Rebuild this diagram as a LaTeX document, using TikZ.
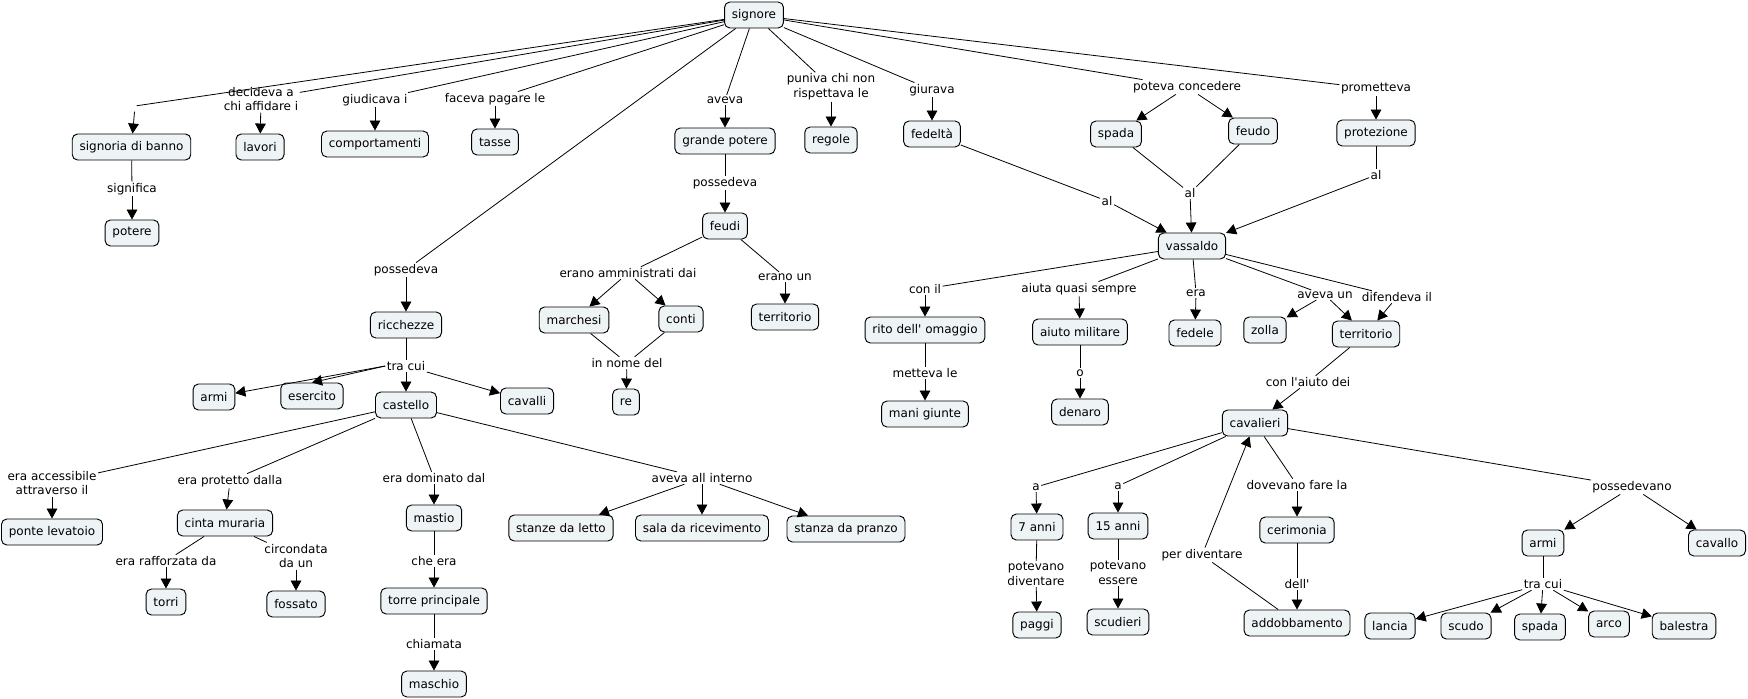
\documentclass[tikz,border=0pt]{standalone}
\usepackage{fontspec}
\setmainfont{DejaVu Sans}[Ligatures=TeXOff]
\usetikzlibrary{arrows.meta}
\definecolor{boxfill}{HTML}{EEF3F5}

\begin{document}
\begin{tikzpicture}[x=0.75pt,y=-0.75pt,
  concept/.style={draw,rounded corners=4pt,fill=boxfill,line width=0.7pt,
    inner xsep=5.5pt,inner ysep=3pt,minimum height=19.5pt,font=\fontsize{9}{11}\selectfont},
  link/.style={inner sep=1pt,align=center,font=\fontsize{9}{11}\selectfont},
  wire/.style={line width=0.6pt},
  tip/.style={wire,-{Triangle[length=7.5pt,width=8pt]}}]

% 1. Canvas (pixel grid of the reference)
\fill[white] (0,0) rectangle (1748,699);
\useasboundingbox (0,0) rectangle (1748,699);

% 2. Concepts
\node[concept] (signore) at (754,15) {signore};
\node[concept] (banno) at (131.5,147) {signoria di banno};
\node[concept] (potere) at (132,233) {potere};
\node[concept] (lavori) at (260,147) {lavori};
\node[concept] (comportamenti) at (375,144) {comportamenti};
\node[concept] (tasse) at (495,142) {tasse};
\node[concept] (grandepotere) at (725,141) {grande potere};
\node[concept] (feudi) at (725,226) {feudi};
\node[concept] (regole) at (831,140) {regole};
\node[concept] (fedelta) at (932,134) {fedeltà};
\node[concept] (spada) at (1116,134) {spada};
\node[concept] (feudo) at (1253,131) {feudo};
\node[concept] (protezione) at (1376,133) {protezione};
\node[concept] (vassaldo) at (1192,246) {vassaldo};
\node[concept] (ricchezze) at (406,325) {ricchezze};
\node[concept] (armi) at (214,397) {armi};
\node[concept] (esercito) at (312,396) {esercito};
\node[concept] (castello) at (406,405) {castello};
\node[concept] (cavalli) at (527,401) {cavalli};
\node[concept] (ponte) at (52,532) {ponte levatoio};
\node[concept] (cinta) at (225,523) {cinta muraria};
\node[concept] (torri) at (166,602) {torri};
\node[concept] (fossato) at (296,604) {fossato};
\node[concept] (mastio) at (434,518) {mastio};
\node[concept] (torre) at (434,601) {torre principale};
\node[concept] (maschio) at (434,684) {maschio};
\node[concept] (stanze) at (561,528) {stanze da letto};
\node[concept] (sala) at (702,528) {sala da ricevimento};
\node[concept] (pranzo) at (846,529) {stanza da pranzo};
\node[concept] (marchesi) at (574,320) {marchesi};
\node[concept] (conti) at (681,319) {conti};
\node[concept] (territorioA) at (785,317) {territorio};
\node[concept] (re) at (626,402) {re};
\node[concept] (rito) at (925,330) {rito dell' omaggio};
\node[concept] (mani) at (925,414) {mani giunte};
\node[concept] (aiuto) at (1080,332) {aiuto militare};
\node[concept] (denaro) at (1080,412) {denaro};
\node[concept] (fedele) at (1195,333) {fedele};
\node[concept] (zolla) at (1265,330) {zolla};
\node[concept] (territorioB) at (1366,334) {territorio};
\node[concept] (cavalieri) at (1255,423) {cavalieri};
\node[concept] (sette) at (1037,527) {7 anni};
\node[concept] (paggi) at (1037,625) {paggi};
\node[concept] (quindici) at (1118,526) {15 anni};
\node[concept] (scudieri) at (1118,622) {scudieri};
\node[concept] (cerimonia) at (1297,530) {cerimonia};
\node[concept] (addobb) at (1297,623) {addobbamento};
\node[concept] (armiB) at (1543,543) {armi};
\node[concept] (cavallo) at (1717,543) {cavallo};
\node[concept] (lancia) at (1390,626) {lancia};
\node[concept] (scudo) at (1466,626) {scudo};
\node[concept] (spadaB) at (1540,627) {spada};
\node[concept] (arco) at (1609,624) {arco};
\node[concept] (balestra) at (1684,626) {balestra};

% 3. Linking phrases
\node[link,minimum height=8pt] (lbanno) at (135,106) {};
\node[link] (ldecideva) at (261,99) {decideva a\\chi affidare i};
\node[link] (lgiudicava) at (375,100) {giudicava i};
\node[link] (lfaceva) at (495,99) {faceva pagare le};
\node[link] (lsignifica) at (132,189) {significa};
\node[link] (lpossRic) at (406,270) {possedeva};
\node[link] (laveva) at (725,100) {aveva};
\node[link] (lpossFeudi) at (725,183) {possedeva};
\node[link] (lpuniva) at (831,87) {puniva chi non\\rispettava le};
\node[link] (lgiurava) at (932,90) {giurava};
\node[link] (lconcedere) at (1187,87) {poteva concedere};
\node[link] (lprometteva) at (1376,89) {prometteva};
\node[link] (lalFed) at (1107,201) {al};
\node[link] (lalSpada) at (1190,193) {al};
\node[link] (lalProt) at (1376,175) {al};
\node[link] (ltracui) at (406,366) {tra cui};
\node[link] (laccessibile) at (52,483) {era accessibile\\attraverso il};
\node[link] (lprotetto) at (230,481) {era protetto dalla};
\node[link] (lrafforzata) at (166,561) {era rafforzata da};
\node[link] (lcircondata) at (296,556) {circondata\\da un};
\node[link] (ldominato) at (434,478) {era dominato dal};
\node[link] (lcheera) at (434,561) {che era};
\node[link] (lchiamata) at (434,644) {chiamata};
\node[link] (linterno) at (702,478) {aveva all interno};
\node[link] (lamministrati) at (628,273) {erano amministrati dai};
\node[link] (leranoun) at (785,277) {erano un};
\node[link] (lnome) at (627,363) {in nome del};
\node[link] (lconil) at (925,289) {con il};
\node[link] (lmetteva) at (925,373) {metteva le};
\node[link] (laiuta) at (1079,289) {aiuta quasi sempre};
\node[link] (lo) at (1080,373) {o};
\node[link] (lera) at (1196,293) {era};
\node[link] (lavevaun) at (1325,295) {aveva un};
\node[link] (ldifendeva) at (1397,297) {difendeva il};
\node[link] (laiutodei) at (1308,382) {con l'aiuto dei};
\node[link] (laA) at (1036,487) {a};
\node[link] (laB) at (1118,486) {a};
\node[link] (lpotdiv) at (1036,574) {potevano\\diventare};
\node[link] (lpotess) at (1118,573) {potevano\\essere};
\node[link] (lperdiv) at (1202,555) {per diventare};
\node[link] (ldovevano) at (1297,485) {dovevano fare la};
\node[link] (ldell) at (1297,584) {dell'};
\node[link] (lpossedevano) at (1632,487) {possedevano};
\node[link] (ltracuiB) at (1543,584) {tra cui};

% 4. Links leaving signore
\draw[wire] (signore) -- (lbanno);
\draw[wire] (signore) -- (ldecideva);
\draw[wire] (signore) -- (lgiudicava);
\draw[wire] (signore) -- (lfaceva);
\draw[wire] (signore) -- (lpossRic);
\draw[wire] (signore) -- (laveva);
\draw[wire] (signore) -- (lpuniva);
\draw[wire] (signore) -- (lgiurava);
\draw[wire] (signore) -- (lconcedere);
\draw[wire] (signore) -- (lprometteva);
\draw[tip] (lbanno) -- (banno);
\draw[tip] (ldecideva) -- (lavori);
\draw[tip] (lgiudicava) -- (comportamenti);
\draw[tip] (lfaceva) -- (tasse);
\draw[tip] (lpossRic) -- (ricchezze);
\draw[tip] (laveva) -- (grandepotere);
\draw[tip] (lpuniva) -- (regole);
\draw[tip] (lgiurava) -- (fedelta);
\draw[tip] (lconcedere) -- (spada);
\draw[tip] (lconcedere) -- (feudo);
\draw[tip] (lprometteva) -- (protezione);
\draw[wire] (banno) -- (lsignifica);
\draw[tip] (lsignifica) -- (potere);

% 5. Feudi branch
\draw[wire] (grandepotere) -- (lpossFeudi);
\draw[tip] (lpossFeudi) -- (feudi);
\draw[wire] (feudi) -- (lamministrati);
\draw[tip] (lamministrati) -- (marchesi);
\draw[tip] (lamministrati) -- (conti);
\draw[wire] (feudi) -- (leranoun);
\draw[tip] (leranoun) -- (territorioA);
\draw[wire] (marchesi) -- (lnome);
\draw[wire] (conti) -- (lnome);
\draw[tip] (lnome) -- (re);

% 6. Ricchezze and castello
\draw[wire] (ricchezze) -- (ltracui);
\draw[tip] (ltracui.west) -- (armi);
\draw[tip] (ltracui.west) -- (esercito.north);
\draw[tip] (ltracui) -- (castello);
\draw[tip] (ltracui) -- (cavalli);
\draw[wire] (castello) -- (laccessibile);
\draw[wire] (castello) -- (lprotetto);
\draw[wire] (castello) -- (ldominato);
\draw[wire] (castello) -- (linterno);
\draw[tip] (laccessibile) -- (ponte);
\draw[tip] (lprotetto) -- (cinta);
\draw[tip] (ldominato) -- (mastio);
\draw[tip] (linterno) -- (stanze);
\draw[tip] (linterno) -- (sala);
\draw[tip] (linterno) -- (pranzo);
\draw[wire] (cinta) -- (lrafforzata);
\draw[wire] (cinta) -- (lcircondata);
\draw[tip] (lrafforzata) -- (torri);
\draw[tip] (lcircondata) -- (fossato);
\draw[wire] (mastio) -- (lcheera);
\draw[tip] (lcheera) -- (torre);
\draw[wire] (torre) -- (lchiamata);
\draw[tip] (lchiamata) -- (maschio);

% 7. Towards vassaldo
\draw[wire] (fedelta) -- (lalFed);
\draw[tip] (lalFed) -- (vassaldo);
\draw[wire] (spada) -- (lalSpada);
\draw[wire] (feudo) -- (lalSpada);
\draw[tip] (lalSpada) -- (vassaldo);
\draw[wire] (protezione) -- (lalProt);
\draw[tip] (lalProt) -- (vassaldo);

% 8. Vassaldo branch
\draw[wire] (vassaldo) -- (lconil);
\draw[wire] (vassaldo) -- (laiuta);
\draw[wire] (vassaldo) -- (lera);
\draw[wire] (vassaldo) -- (lavevaun);
\draw[wire] (vassaldo) -- (ldifendeva);
\draw[tip] (lconil) -- (rito);
\draw[tip] (laiuta) -- (aiuto);
\draw[tip] (lera) -- (fedele);
\draw[tip] (lavevaun) -- (zolla);
\draw[tip] (lavevaun) -- (territorioB);
\draw[tip] (ldifendeva) -- (territorioB);
\draw[wire] (rito) -- (lmetteva);
\draw[tip] (lmetteva) -- (mani);
\draw[wire] (aiuto) -- (lo);
\draw[tip] (lo) -- (denaro);
\draw[wire] (territorioB) -- (laiutodei);
\draw[tip] (laiutodei) -- (cavalieri);

% 9. Cavalieri branch
\draw[wire] (cavalieri) -- (laA);
\draw[wire] (cavalieri) -- (laB);
\draw[wire] (cavalieri) -- (ldovevano);
\draw[wire] (cavalieri) -- (lpossedevano);
\draw[tip] (laA) -- (sette);
\draw[tip] (laB) -- (quindici);
\draw[tip] (ldovevano) -- (cerimonia);
\draw[wire] (sette) -- (lpotdiv);
\draw[tip] (lpotdiv) -- (paggi);
\draw[wire] (quindici) -- (lpotess);
\draw[tip] (lpotess) -- (scudieri);
\draw[wire] (cerimonia) -- (ldell);
\draw[tip] (ldell) -- (addobb);
\draw[wire] (addobb) -- (lperdiv);
\draw[tip] (lperdiv) -- (cavalieri);
\draw[tip] (lpossedevano) -- (armiB);
\draw[tip] (lpossedevano) -- (cavallo);
\draw[wire] (armiB) -- (ltracuiB);
\draw[tip] (ltracuiB) -- (lancia);
\draw[tip] (ltracuiB) -- (scudo);
\draw[tip] (ltracuiB) -- (spadaB);
\draw[tip] (ltracuiB) -- (arco);
\draw[tip] (ltracuiB) -- (balestra);

\end{tikzpicture}
\end{document}
